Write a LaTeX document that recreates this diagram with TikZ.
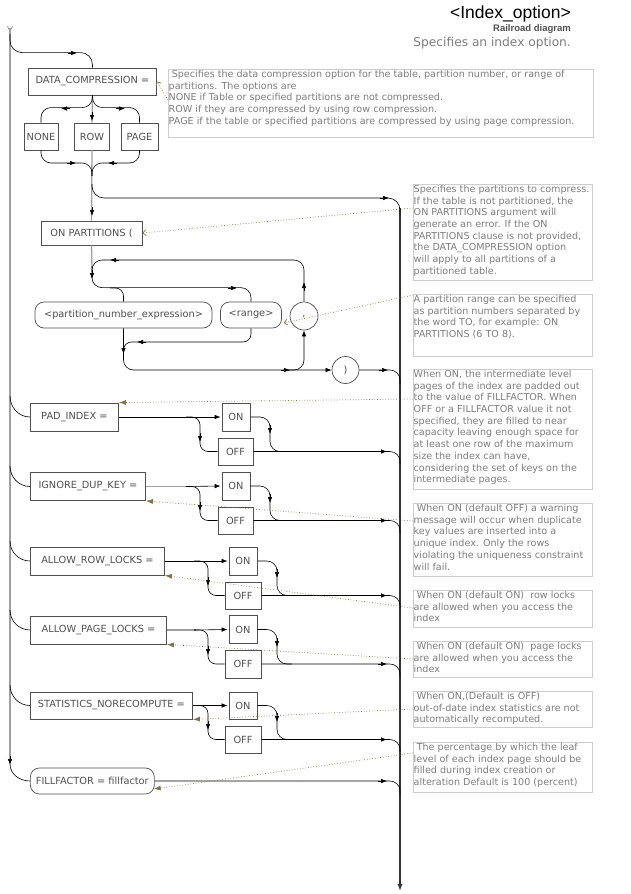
\documentclass[tikz,border=0pt]{standalone}
\usepackage{fontspec}
\setmainfont{DejaVu Sans}
\newfontfamily\headfont{Liberation Sans}
\usepackage{tikz}
\usetikzlibrary{calc, arrows.meta, positioning}
\definecolor{boxgray}{RGB}{80,80,80}
\definecolor{railgray}{RGB}{160,160,160}
\definecolor{notegray}{RGB}{125,125,125}
\definecolor{framegray}{RGB}{205,205,205}
\definecolor{pointer}{RGB}{130,115,70}
\tikzset{
    keynode/.style = {draw=boxgray, line width=0.9pt, rectangle, fill=white, text=boxgray, inner sep=0pt,
      minimum height=28pt, font=\fontsize{9.8}{11}\selectfont},
    roundnode/.style = {keynode, line width=0.7pt, rounded corners=0.9em, minimum height=26pt},
    circlenode/.style = {draw=boxgray, line width=0.7pt, circle, fill=white, text=boxgray, inner sep=0pt,
      minimum size=27pt, font=\fontsize{9.8}{11}\selectfont},
    textnode/.style = {draw=none, fill=none, inner sep=0pt, anchor=east},
    notenode/.style = {draw=none, anchor=north west, inner xsep=0.5pt, inner ysep=1pt,
      text=notegray, align=left, font=\fontsize{9.6}{11.7}\selectfont},
    noteframe/.style = {draw=framegray, line width=0.9pt},
    rail/.style = {draw=railgray, line width=1.3pt},
    endrail/.style = {draw=black!80, line width=1.2pt},
    connect/.style = {draw=black, line width=0.6pt, rounded corners=10pt},
    flowtip/.style = {draw=black, line width=0.6pt, -{Latex[length=6pt, width=4.5pt]}},
    hint/.style = {draw=pointer, dotted, line width=0.7pt, -{Straight Barb[length=3pt, width=6pt]}},
    hintfill/.style = {draw=pointer, dotted, line width=0.7pt, -{Latex[length=7pt, width=5pt]}}
}

\begin{document}
\begin{tikzpicture}[x=1pt, y=-1pt]
\useasboundingbox (0,0) rectangle (630,894);

% heading
\node[textnode, name=title, text=black, font=\headfont\fontsize{17.5}{20}\selectfont] at (571,14) {<Index\_option>};
\node[textnode, name=kind, text=boxgray, font=\headfont\bfseries\fontsize{9.5}{11}\selectfont] at (571,29) {Railroad diagram};
\node[textnode, name=purpose, text=notegray, font=\fontsize{12.2}{14}\selectfont] at (571,43) {Specifies an index option.};

% keyword boxes
\node[keynode, name=DC, minimum width=128pt, minimum height=27pt, anchor=west] at (28,81.5) {DATA\_COMPRESSION =};
\node[keynode, name=NONE, minimum width=34pt, minimum height=27pt] at (41,136.5) {NONE};
\node[keynode, name=ROW, minimum width=35pt, minimum height=27pt] at (92,136.5) {ROW};
\node[keynode, name=PAGE, minimum width=37pt, minimum height=27pt] at (139.5,136.5) {PAGE};
\node[keynode, name=ONP, minimum width=101pt, minimum height=24pt] at (91.5,233) {ON PARTITIONS (};
\node[roundnode, name=PNE, minimum width=177pt] at (123.5,315) {<partition\_number\_expression>};
\node[roundnode, name=RANGE, minimum width=61pt] at (251,315) {<range>};
\node[circlenode, name=COMMA, minimum size=28pt] at (304,316) {,};
\node[circlenode, name=CLOSE] at (345.5,370) {)};

\node[keynode, name=PAD, minimum width=88pt, anchor=west] at (30,417) {PAD\_INDEX =};
\node[keynode, name=PADon, minimum width=28pt] at (236,417) {ON};
\node[keynode, name=PADoff, minimum width=35pt, minimum height=27pt] at (235.5,451.5) {OFF};
\node[keynode, name=IGN, minimum width=115pt, anchor=west] at (30,486.5) {IGNORE\_DUP\_KEY =};
\node[keynode, name=IGNon, minimum width=28pt] at (236,486) {ON};
\node[keynode, name=IGNoff, minimum width=35pt, minimum height=27pt] at (235.5,520.5) {OFF};
\node[keynode, name=ROWL, minimum width=134pt, anchor=west] at (30,561) {ALLOW\_ROW\_LOCKS =};
\node[keynode, name=ROWLon, minimum width=28pt] at (243,561) {ON};
\node[keynode, name=ROWLoff, minimum width=36pt, minimum height=27pt] at (243,595.5) {OFF};
\node[keynode, name=PAGEL, minimum width=136pt, anchor=west] at (30,630) {ALLOW\_PAGE\_LOCKS =};
\node[keynode, name=PAGELon, minimum width=28pt] at (243,629.5) {ON};
\node[keynode, name=PAGELoff, minimum width=36pt] at (243,664) {OFF};
\node[keynode, name=STATS, minimum width=162pt, minimum height=27pt, anchor=west] at (30,705.5) {STATISTICS\_NORECOMPUTE =};
\node[keynode, name=STATSon, minimum width=28pt, minimum height=27pt] at (243,705.5) {ON};
\node[keynode, name=STATSoff, minimum width=36pt, minimum height=27pt] at (243,739.5) {OFF};
\node[roundnode, name=FF, minimum width=124pt, anchor=west] at (30,781) {FILLFACTOR = fillfactor};

% rails
\draw[rail] (10,28) -- (10,762);
\draw[rail, line width=0.8pt] (7.5,26) -- (10,32) -- (12.5,26);
\draw[flowtip] (10,756) -- (10,765);
\draw[connect] (10,764) to[out=-90, in=180] (FF.west);
\draw[endrail, -{Latex[length=7pt, width=5pt]}] (400,208) -- (400,891);

% data compression
\draw[connect, rounded corners=12pt] (10,34) |- ($(DC.north)+(0,-15)$) -- (DC.north);
\draw[flowtip] (68,53) -- (77,53);
\draw[rail] (DC.south) -- (ROW.north);
\draw[flowtip] (92,112) -- (92,121);
\draw[connect] (DC.south) |- ($(NONE.north)+(0,-15)$) -- (NONE.north);
\draw[flowtip] (70,108.5) -- (61,108.5);
\draw[connect] (DC.south) |- ($(PAGE.north)+(0,-15)$) -- (PAGE.north);
\draw[flowtip] (116,108.5) -- (125,108.5);
\draw[rail] (ROW.south) -- (ONP.north);
\draw[connect] (NONE.south) |- (92,163) -- (92,176);
\draw[connect] (PAGE.south) |- (92,163) -- (92,176);
\draw[flowtip] (67,163) -- (76,163);
\draw[flowtip] (117,163) -- (108,163);
\draw[connect, rounded corners=12pt] (92,184) |- (400,198) -- (400,212);
\draw[flowtip] (380,198) -- (389,198);
\draw[flowtip] (92,207) -- (92,216);

% partitions loop
\draw[rail] (ONP.south) -- (92,268);
\draw[connect] (COMMA.north) |- (92,260) -- (92,272);
\draw[rail] (102,260) -- (294,260);
\draw[flowtip] (119,260) -- (110,260);
\draw[flowtip] (304,291) -- (304,282);
\draw[connect] (92,266) |- ($(RANGE.north)+(0,-14)$) -- (RANGE.north);
\draw[flowtip] (92,270) -- (92,279);
\draw[connect, rounded corners=8pt] (110,288) -| (PNE.north);
\draw[flowtip] (228,288) -- (237,288);
\draw[connect, -{Latex[length=6pt, width=4.5pt]}] (PNE.south) |- (CLOSE.west);
\draw[flowtip] (123.5,345) -- (123.5,354);
\draw[connect, rounded corners=8pt] (RANGE.south) |- (123.5,342) -- (123.5,352);
\draw[flowtip] (146,342) -- (137,342);
\draw[connect, -{Latex[length=6pt, width=4.5pt]}] (285,370) -| (COMMA.south);
\draw[flowtip] (281,370) -- (290,370);
\draw[connect] (CLOSE.east) -| (400,384);
\draw[flowtip] (379,370) -- (388,370);

% PAD_INDEX
\draw[connect] (10,396) to[out=-90, in=180] (PAD.west);
\draw[connect, -{Latex[length=6pt, width=4.5pt]}, shorten >=1pt] (PAD.east) -- (PADon.west);
\draw[connect, rounded corners=8pt] (186,417) -| (200,451.5) -- (PADoff.west);
\draw[flowtip] (200,433) -- (200,442);
\draw[connect] (PADon.east) -| (270,451.5) -- (285,451.5);
\draw[flowtip] (270,425) -- (270,434);
\draw[connect] (PADoff.east) -| (400,464);
\draw[flowtip] (378,451.5) -- (387,451.5);

% IGNORE_DUP_KEY
\draw[connect] (10,466) to[out=-90, in=180] (IGN.west);
\draw[rail] (IGN.east) -- (188,486.5);
\draw[connect, -{Latex[length=6pt, width=4.5pt]}, shorten >=1pt] (186,486.5) -- (IGNon.west);
\draw[connect, rounded corners=8pt] (186,486.5) -| (200,520.5) -- (IGNoff.west);
\draw[flowtip] (200,502) -- (200,511);
\draw[connect] (IGNon.east) -| (270,520.5) -- (285,520.5);
\draw[flowtip] (270,494) -- (270,503);
\draw[connect] (IGNoff.east) -| (400,533);
\draw[flowtip] (378,520.5) -- (387,520.5);

% ALLOW_ROW_LOCKS
\draw[connect] (10,541) to[out=-90, in=180] (ROWL.west);
\draw[connect, -{Latex[length=6pt, width=4.5pt]}, shorten >=1pt] (ROWL.east) -- (ROWLon.west);
\draw[connect, rounded corners=8pt] (194,561) -| (208,595.5) -- (ROWLoff.west);
\draw[flowtip] (208,577) -- (208,586);
\draw[connect] (ROWLon.east) -| (277,595.5) -- (292,595.5);
\draw[flowtip] (277,569) -- (277,578);
\draw[connect] (ROWLoff.east) -| (400,608);
\draw[flowtip] (378,595.5) -- (387,595.5);

% ALLOW_PAGE_LOCKS
\draw[connect] (10,610) to[out=-90, in=180] (PAGEL.west);
\draw[rail] (PAGEL.east) -- (196,630);
\draw[connect, -{Latex[length=6pt, width=4.5pt]}, shorten >=1pt] (194,630) -- (PAGELon.west);
\draw[connect, rounded corners=8pt] (194,630) -| (208,664) -- (PAGELoff.west);
\draw[flowtip] (208,646) -- (208,655);
\draw[connect] (PAGELon.east) -| (277,664) -- (292,664);
\draw[flowtip] (277,638) -- (277,647);
\draw[connect] (PAGELoff.east) -| (400,677);
\draw[flowtip] (378,664) -- (387,664);

% STATISTICS_NORECOMPUTE
\draw[connect] (10,685) to[out=-90, in=180] (STATS.west);
\draw[connect, -{Latex[length=6pt, width=4.5pt]}, shorten >=1pt] (STATS.east) -- (STATSon.west);
\draw[connect, rounded corners=8pt] (196,705.5) -| (208,739.5) -- (STATSoff.west);
\draw[flowtip] (208,721) -- (208,730);
\draw[connect] (STATSon.east) -| (277,739.5) -- (292,739.5);
\draw[flowtip] (277,713) -- (277,722);
\draw[connect] (STATSoff.east) -| (400,752);
\draw[flowtip] (378,739.5) -- (387,739.5);

% FILLFACTOR
\draw[connect] (FF.east) -| (400,794);
\draw[flowtip] (378,781) -- (387,781);

% notes
\node[notenode, name=note1] at (168,69) {\ Specifies the data compression option for the table, partition number, or range of\\
partitions. The options are\\
NONE if Table or specified partitions are not compressed.\\
ROW if they are compressed by using row compression.\\
PAGE if the table or specified partitions are compressed by using page compression.};
\draw[noteframe] (note1.north west) rectangle ++(425,68);
\node[notenode, name=note2] at (413,184) {Specifies the partitions to compress.\\
If the table is not partitioned, the\\
ON PARTITIONS argument will\\
generate an error. If the ON\\
PARTITIONS clause is not provided,\\
the DATA\_COMPRESSION option\\
will apply to all partitions of a\\
partitioned table.};
\draw[noteframe] (note2.north west) rectangle ++(179,96);
\node[notenode, name=note3] at (413,294) {A partition range can be specified\\
as partition numbers separated by\\
the word TO, for example: ON\\
PARTITIONS (6 TO 8).};
\draw[noteframe] (note3.north west) rectangle ++(179,62);
\node[notenode, name=note4] at (413,369) {When ON, the intermediate level\\
pages of the index are padded out\\
to the value of FILLFACTOR. When\\
OFF or a FILLFACTOR value it not\\
specified, they are filled to near\\
capacity leaving enough space for\\
at least one row of the maximum\\
size the index can have,\\
considering the set of keys on the\\
intermediate pages.};
\draw[noteframe] (note4.north west) rectangle ++(179,120);
\node[notenode, name=note5] at (413,503) {\ When ON (default OFF) a warning\\
message will occur when duplicate\\
key values are inserted into a\\
unique index. Only the rows\\
violating the uniqueness constraint\\
will fail.};
\draw[noteframe] (note5.north west) rectangle ++(179,73);
\node[notenode, name=note6] at (413,590) {\ When ON (default ON)\ \ row locks\\
are allowed when you access the\\
index};
\draw[noteframe] (note6.north west) rectangle ++(179,37);
\node[notenode, name=note7] at (413,641) {\ When ON (default ON)\ \ page locks\\
are allowed when you access the\\
index};
\draw[noteframe] (note7.north west) rectangle ++(179,36);
\node[notenode, name=note8] at (413,691) {\ When ON,(Default is OFF)\\
out-of-date index statistics are not\\
automatically recomputed.};
\draw[noteframe] (note8.north west) rectangle ++(179,36);
\node[notenode, name=note9] at (413,742) {\ The percentage by which the leaf\\
level of each index page should be\\
filled during index creation or\\
alteration Default is 100 (percent)};
\draw[noteframe] (note9.north west) rectangle ++(179,50);

% pointers from notes
\draw[hint] ($(note1.north west)+(0,31)$) -- (DC.east);
\draw[hint] ($(note2.north west)+(0,24)$) -- (ONP.east);
\draw[hint] ($(note3.north west)+(0,1)$) -- ($(RANGE.east)+(2,8)$);
\draw[hintfill] ($(note4.north west)+(0,30)$) -- (PAD.north east);
\draw[hintfill] ($(note5.north west)+(0,18)$) -- (IGN.south east);
\draw[hintfill] ($(note6.north west)+(0,18)$) -- (ROWL.south east);
\draw[hintfill] ($(note7.north west)+(0,18)$) -- (PAGEL.south east);
\draw[hintfill] ($(note8.north west)+(0,18)$) -- (STATS.south east);
\draw[hintfill] ($(note9.north west)+(0,11)$) -- ($(FF.east)+(-1,8)$);
\end{tikzpicture}
\end{document}
